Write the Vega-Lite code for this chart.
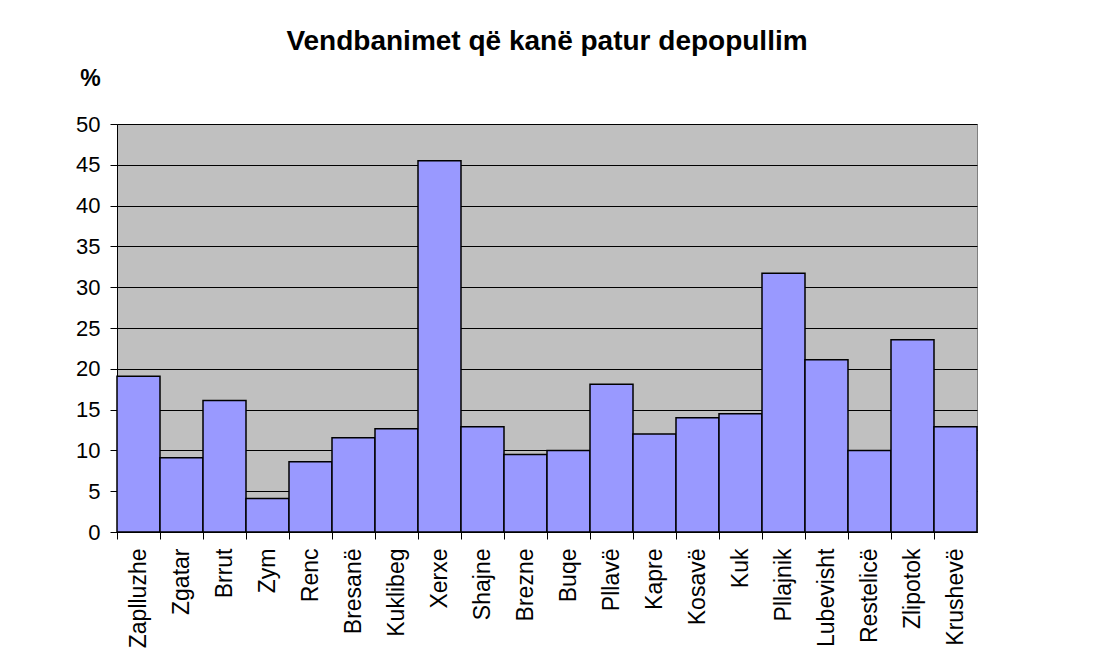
{
  "$schema": "https://vega.github.io/schema/vega-lite/v6.json",
  "width": 860,
  "height": 408,
  "autosize": "none",
  "padding": {"left": 117, "top": 124, "right": 139, "bottom": 139},
  "background": "white",
  "title": {
    "text": "Vendbanimet që kanë patur depopullim",
    "font": "Liberation Sans",
    "fontSize": 28,
    "fontWeight": "bold",
    "color": "black",
    "anchor": "middle",
    "baseline": "alphabetic",
    "offset": -11
  },
  "data": {
    "values": [
      {"v": "Zaplluzhe", "p": 19.1},
      {"v": "Zgatar", "p": 9.1},
      {"v": "Brrut", "p": 16.1},
      {"v": "Zym", "p": 4.1},
      {"v": "Renc", "p": 8.6},
      {"v": "Bresanë", "p": 11.55},
      {"v": "Kuklibeg", "p": 12.65},
      {"v": "Xerxe", "p": 45.5},
      {"v": "Shajne", "p": 12.9},
      {"v": "Brezne", "p": 9.5},
      {"v": "Buqe", "p": 10.0},
      {"v": "Pllavë", "p": 18.1},
      {"v": "Kapre", "p": 12.0},
      {"v": "Kosavë", "p": 14.0},
      {"v": "Kuk", "p": 14.5},
      {"v": "Pllajnik", "p": 31.7},
      {"v": "Lubevisht", "p": 21.1},
      {"v": "Restelicë", "p": 10.0},
      {"v": "Zlipotok", "p": 23.55},
      {"v": "Krushevë", "p": 12.9}
    ]
  },
  "mark": {"type": "bar", "fill": "#9999FF", "stroke": "black", "strokeWidth": 1.5},
  "encoding": {
    "x": {
      "field": "v",
      "type": "nominal",
      "sort": null,
      "scale": {"paddingInner": 0, "paddingOuter": 0},
      "axis": {
        "title": null,
        "labelAngle": -90,
        "labelFont": "Liberation Sans",
        "labelFontSize": 23,
        "labelColor": "black",
        "labelPadding": 9,
        "bandPosition": 0,
        "ticks": true,
        "tickSize": 7,
        "tickColor": "black",
        "domainColor": "black",
        "grid": false
      }
    },
    "y": {
      "field": "p",
      "type": "quantitative",
      "scale": {"domain": [0, 50], "nice": false},
      "axis": {
        "title": "%",
        "titleAngle": 0,
        "titleFont": "Liberation Sans",
        "titleFontSize": 23,
        "titleFontWeight": "bold",
        "titleColor": "black",
        "titleAlign": "center",
        "titleBaseline": "middle",
        "titleX": -27,
        "titleY": -46,
        "values": [0, 5, 10, 15, 20, 25, 30, 35, 40, 45, 50],
        "labelFont": "Liberation Sans",
        "labelFontSize": 22,
        "labelColor": "black",
        "labelPadding": 10,
        "tickSize": 7,
        "tickColor": "black",
        "domainColor": "black",
        "grid": true,
        "gridColor": "black",
        "gridWidth": 1,
        "gridOpacity": 1
      }
    }
  },
  "config": {
    "view": {"fill": "#C0C0C0", "stroke": "#808080", "strokeWidth": 1}
  }
}
